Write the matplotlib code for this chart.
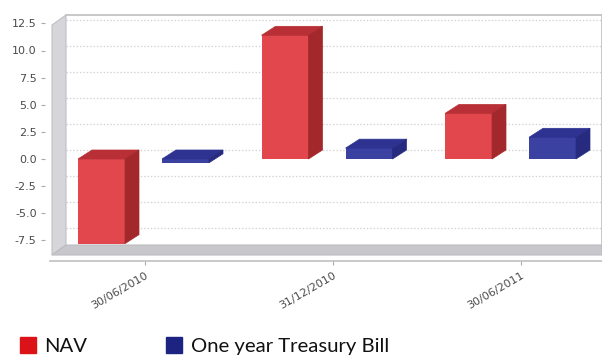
import numpy as np
import matplotlib
matplotlib.use("Agg")
import matplotlib.pyplot as plt
from matplotlib.patches import Polygon, Patch
from matplotlib.transforms import IdentityTransform

# data
periods = ["30/06/2010", "31/12/2010", "30/06/2011"]
nav = [-7.8, 11.4, 4.2]
tbill = [-0.35, 1.0, 2.0]
y_ticks = [-7.5, -5.0, -2.5, 0.0, 2.5, 5.0, 7.5, 10.0, 12.5]

W, H = 602, 356
DX, DY = 14, 9  # depth of the fake 3d bars, pixels

NAV_COLORS = ("#e2474d", "#b83035", "#a3282b")
TB_COLORS = ("#3b41a0", "#2e3391", "#272b7f")


def fpos(left, top, right, bottom):
    # pixel box (from top-left) -> figure fraction [l, b, w, h]
    return [left / W, 1 - bottom / H, (right - left) / W, (bottom - top) / H]


fig = plt.figure(figsize=(W / 100, H / 100), dpi=100)

# back wall with the dotted grid
wall = fig.add_axes(fpos(66, 15, 602, 245), zorder=0)
wall.set_ylim(-7.5 - 17 / 10.4, 12.5 + 5 / 10.4)
wall.set_yticks(y_ticks)
wall.set_xticks([])
wall.tick_params(left=False, labelleft=False)
wall.grid(True, axis="y", linestyle=(0, (1.2, 1.5)), color="#d4d4d4", linewidth=0.9)
for s in ["left", "bottom"]:
    wall.spines[s].set_visible(False)
for s in ["top", "right"]:
    wall.spines[s].set_color("#c4c4c4")
    wall.spines[s].set_linewidth(1.3)

# left wall and floor
def px(x, y):
    return (x / W, 1 - y / H)

left_wall = Polygon([px(52, 25), px(66, 15), px(66, 245), px(52, 255)],
                    closed=True, transform=fig.transFigure, facecolor="#d6d6da",
                    edgecolor="#c0c0c4", linewidth=0.8, zorder=0.5)
floor = Polygon([px(52, 255), px(66, 245), px(602, 245), px(602, 255)],
                closed=True, transform=fig.transFigure, facecolor="#c8c8cc",
                edgecolor="#bdbdc1", linewidth=0.8, zorder=0.5)
fig.add_artist(left_wall)
fig.add_artist(floor)

# front plane: bars and value axis
ax = fig.add_axes(fpos(45, 15, 602, 245), zorder=1)
ax.patch.set_visible(False)
zero_px, scale = 159, 10.85
ax.set_ylim(-(245 - zero_px) / scale, (zero_px - 15) / scale)
spacing, first = 183.5, 143.5
ax.set_xlim(-(first - 45) / spacing, -(first - 45) / spacing + 557 / spacing)
for s in ax.spines.values():
    s.set_visible(False)
ax.set_xticks([])
ax.set_yticks(y_ticks)
ax.set_yticklabels(["%.1f" % v for v in y_ticks])
ax.tick_params(axis="y", direction="out", length=3, color="#aaaaaa",
               labelsize=8, labelcolor="#4a4a4a", pad=3)

x = np.arange(len(periods))
off = 42 / spacing
width = 47 / spacing
nav_bars = ax.bar(x - off, nav, width, color=NAV_COLORS[0], clip_on=False, zorder=3)
tb_bars = ax.bar(x + off, tbill, width, color=TB_COLORS[0], clip_on=False, zorder=3)


def add_depth(bars, colors):
    for b in bars:
        x0, x1 = b.get_x(), b.get_x() + b.get_width()
        y0, y1 = sorted([b.get_y(), b.get_y() + b.get_height()])
        p0x, p0y = ax.transData.transform((x0, y0))
        p1x, p1y = ax.transData.transform((x1, y1))
        top = [(p0x, p1y), (p1x, p1y), (p1x + DX, p1y + DY), (p0x + DX, p1y + DY)]
        side = [(p1x, p0y), (p1x + DX, p0y + DY), (p1x + DX, p1y + DY), (p1x, p1y)]
        for pts, c in [(top, colors[1]), (side, colors[2])]:
            ax.add_artist(Polygon(pts, closed=True, transform=IdentityTransform(),
                                  facecolor=c, edgecolor=c, linewidth=0.5,
                                  clip_on=False, zorder=3))


add_depth(nav_bars, NAV_COLORS)
add_depth(tb_bars, TB_COLORS)

# category axis under the floor
axx = fig.add_axes(fpos(50, 260, 602, 261), zorder=1)
axx.patch.set_visible(False)
tick_first, tick_step = 145, 188
axx.set_xlim(-(tick_first - 50) / tick_step, -(tick_first - 50) / tick_step + 552 / tick_step)
for s in ["left", "right", "top"]:
    axx.spines[s].set_visible(False)
axx.spines["bottom"].set_color("#c0c0c0")
axx.spines["bottom"].set_linewidth(1.2)
axx.set_yticks([])
axx.set_xticks(x)
axx.set_xticklabels(periods, rotation=30, ha="right", rotation_mode="anchor")
axx.tick_params(axis="x", direction="out", length=3, color="#aaaaaa",
                labelsize=8, labelcolor="#4a4a4a", pad=4)
for lbl in axx.get_xticklabels():
    lbl.set_x(lbl.get_position()[0] + 3 / tick_step)

handles = [Patch(color="#dc1219"), Patch(color="#1d2380")]
fig.legend(handles, ["NAV", "One year Treasury Bill"],
           loc="upper left", bbox_to_anchor=(20 / W, 1 - 337 / H), ncol=2,
           frameon=False, prop={"family": "Lato", "size": 14.6},
           handlelength=0.78, handleheight=0.85, handletextpad=0.42,
           columnspacing=3.9, borderpad=0, borderaxespad=0, labelcolor="#111111")

fig.savefig("out.png", dpi=100)
